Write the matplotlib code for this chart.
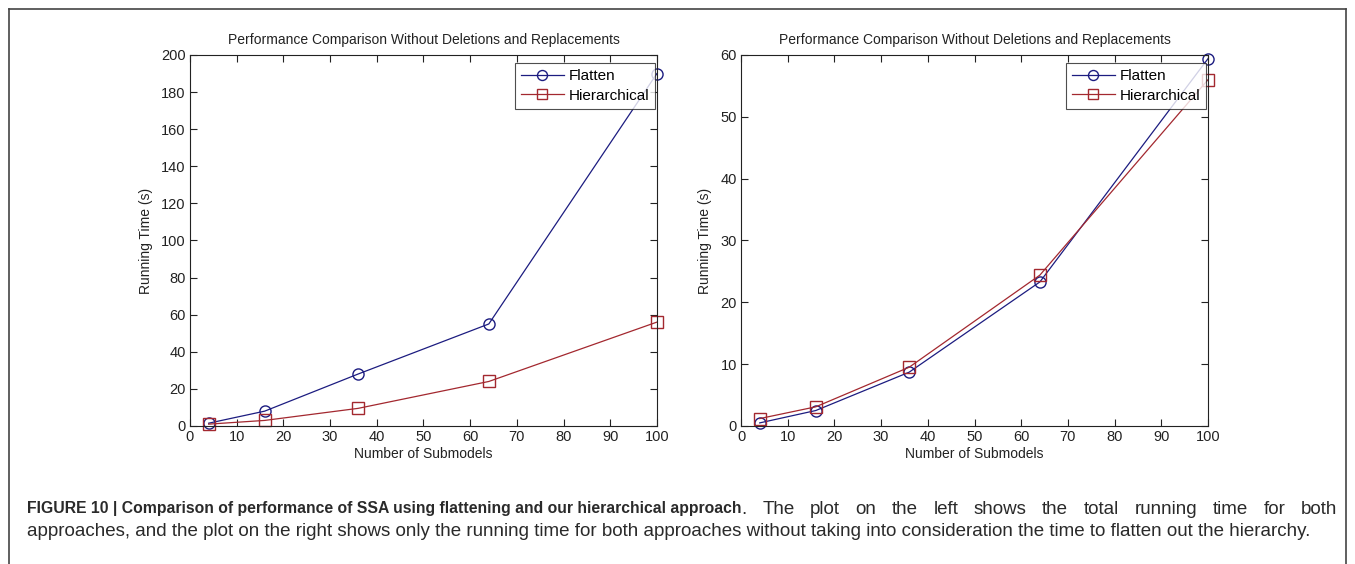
import matplotlib
matplotlib.use('Agg')
import matplotlib.pyplot as plt
from matplotlib.lines import Line2D

# Number of submodels tested
submodels = [4, 16, 36, 64, 100]

# Total running time (s), including flattening
flatten_total = [1.5, 8, 28, 55, 190]
hier_total = [1, 3, 9.5, 24, 56]

# Running time (s) without the flattening step
flatten_run = [0.5, 2.5, 8.7, 23.3, 59.4]
hier_run = [1.2, 3.1, 9.5, 24.4, 56]

title = 'Performance Comparison Without Deletions and Replacements'
blue = '#1c1c80'
red = '#a3282f'

plt.rcParams['font.family'] = ['Liberation Sans', 'DejaVu Sans']

fig = plt.figure(figsize=(13.55, 5.64), dpi=100)
ax1 = fig.add_axes([0.1402, 0.2447, 0.3446, 0.6578])
ax2 = fig.add_axes([0.5469, 0.2447, 0.3446, 0.6578])


def draw_panel(ax, y_flat, y_hier, ymax, ystep):
    ax.plot(submodels, y_flat, color=blue, lw=0.9, marker='o', markersize=8,
            markerfacecolor='none', markeredgecolor=blue, label='Flatten', clip_on=False)
    ax.plot(submodels, y_hier, color=red, lw=0.9, marker='s', markersize=8,
            markerfacecolor='none', markeredgecolor=red, label='Hierarchical', clip_on=False)
    ax.set_xlim(0, 100)
    ax.set_ylim(0, ymax)
    ax.set_xticks(range(0, 101, 10))
    ax.set_yticks(range(0, ymax + 1, ystep))
    ax.tick_params(direction='in', top=True, right=True, length=5, width=0.8,
                   labelsize=10.5, colors='#222222', pad=3)
    for s in ax.spines.values():
        s.set_linewidth(0.8)
        s.set_color('#222222')
    ax.set_title(title, fontsize=10, color='#222222', pad=8)
    ax.set_xlabel('Number of Submodels', fontsize=10, color='#222222', labelpad=2)
    ax.set_ylabel('Running Time (s)', fontsize=10, color='#222222', labelpad=6)
    leg = ax.legend(loc='upper right', bbox_to_anchor=(0.996, 0.978), borderaxespad=0,
                    fontsize=11, handlelength=2.8, handletextpad=0.3,
                    borderpad=0.4, labelspacing=0.35, fancybox=False, markerscale=0.9)
    leg.get_frame().set_edgecolor('#222222')
    leg.get_frame().set_linewidth(0.8)


draw_panel(ax1, flatten_total, hier_total, 200, 20)
draw_panel(ax2, flatten_run, hier_run, 60, 10)

# frame around the figure panel (open at the bottom)
W, H = 1355, 564
frame = dict(color='#444444', lw=1.2)
fig.add_artist(Line2D([9 / W, 1346 / W], [1 - 9 / H, 1 - 9 / H], **frame))
fig.add_artist(Line2D([9 / W, 9 / W], [0, 1 - 9 / H], **frame))
fig.add_artist(Line2D([1346 / W, 1346 / W], [0, 1 - 9 / H], **frame))

# caption: bold lead-in followed by regular text, justified between x=27 and x=1337
cap_color = '#2a2a2a'
left_px, right_px = 27, 1337
line2 = ('approaches, and the plot on the right shows only the running time for both approaches '
         'without taking into consideration the time to flatten out the hierarchy.')
t2 = fig.text(left_px / W, 1 - 531 / H, line2, fontsize=11.3, color=cap_color,
              va='center', ha='left')
fig.canvas.draw()
size = 11.3 * 1291 / t2.get_window_extent().width
t2.set_fontsize(size)

bold = fig.text(left_px / W, 1 - 509 / H,
                'FIGURE 10 | Comparison of performance of SSA using flattening and our hierarchical approach',
                fontsize=size, fontweight='bold', color=cap_color, va='center', ha='left')
fig.canvas.draw()
bold.set_fontsize(size * min(1.0, 715 / bold.get_window_extent().width))
fig.canvas.draw()
x_end = bold.get_window_extent().x1

# rest of the first line, words spread so the line ends flush right
words = '. The plot on the left shows the total running time for both'.split(' ')
word_txt = []
for w in words:
    word_txt.append(fig.text(0, 1 - 509 / H, w, fontsize=size, color=cap_color,
                             va='center', ha='left'))
fig.canvas.draw()
widths = [t.get_window_extent().width for t in word_txt]
gap = (right_px - x_end - sum(widths)) / (len(words) - 1)
x = x_end
for t, wd in zip(word_txt, widths):
    t.set_x(x / W)
    x += wd + gap

fig.savefig('out.png', dpi=100)
